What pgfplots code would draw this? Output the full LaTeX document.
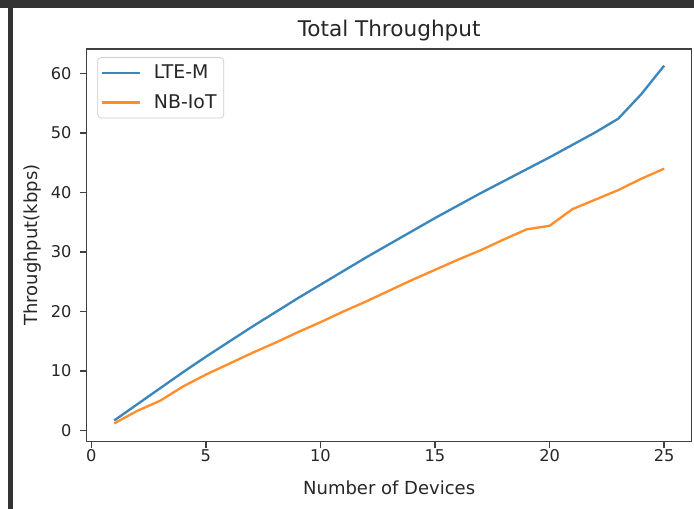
\documentclass[border=0pt]{standalone}
\usepackage{pgfplots}
\pgfplotsset{compat=1.18}
\usepackage{fontspec}
\setmainfont{DejaVu Sans}
\definecolor{mblue}{HTML}{1F77B4}
\definecolor{morange}{HTML}{FF7F0E}
\begin{document}
\begin{tikzpicture}
\path[use as bounding box, fill=white] (0,0) rectangle (385.59pt,282.80pt);
\fill[black!80] (0,278.35pt) rectangle (385.59pt,282.80pt);
\fill[black!80] (4.44pt,0) rectangle (7.06pt,282.80pt);
\begin{axis}[
  at={(48.17pt,37.61pt)}, anchor=south west,
  scale only axis, width=336.1pt, height=217.96pt,
  xmin=-0.2, xmax=26.2, ymin=-1.8, ymax=64.1,
  xtick={0,5,...,25}, ytick={0,10,...,60},
  tick align=outside, tick pos=left, major tick length=3.5pt,
  axis line style={line width=0.8pt, black!75},
  every tick/.style={line width=0.8pt, black!75},
  /pgf/number format/assume math mode=true,
  ticklabel style={font=\fontsize{9}{11}\selectfont, text=black!85},
  xticklabel style={anchor=north, inner sep=0pt, yshift=-1pt},
  yticklabel style={anchor=east, inner sep=0pt, xshift=-4.8pt},
  title={Total Throughput},
  every axis title/.style={at={(axis description cs:0.5,1.046)}, anchor=center, font=\fontsize{12}{14}\selectfont, text=black!85},
  xlabel={Number of Devices},
  xlabel style={at={(axis description cs:0.5,-0.119)}, anchor=center, font=\fontsize{10}{12}\selectfont, text=black!85},
  ylabel={Throughput(kbps)},
  ylabel style={at={(axis description cs:-0.0888,0.5)}, anchor=center, rotate=0, font=\fontsize{10}{12}\selectfont, text=black!85},
  legend cell align=left,
  legend image code/.code={\draw[#1] (0pt,0pt) -- (21pt,0pt);},
  legend style={at={(axis description cs:0.0175,0.979)}, anchor=north west,
    draw=black!20, rounded corners=2pt, fill=white,
    font=\fontsize{10.5}{12}\selectfont, text=black!85,
    inner xsep=2pt, inner ysep=2pt, row sep=3.2pt,
    /tikz/every odd column/.style={column sep=5pt}},
]
\addplot[mblue!88, line width=1.3pt] coordinates {
(1,1.7) (2,4.4) (3,7.1) (4,9.8) (5,12.4) (6,14.9) (7,17.4) (8,19.8) (9,22.2) (10,24.5)
(11,26.8) (12,29.1) (13,31.3) (14,33.5) (15,35.7) (16,37.8) (17,39.9) (18,41.9) (19,43.9) (20,45.9)
(21,48.0) (22,50.1) (23,52.4) (24,56.5) (25,61.3)};
\addlegendentry{LTE-M}
\addplot[morange!88, line width=1.3pt] coordinates {
(1,1.2) (2,3.3) (3,5.0) (4,7.4) (5,9.4) (6,11.2) (7,13.0) (8,14.7) (9,16.5) (10,18.2)
(11,20.0) (12,21.7) (13,23.5) (14,25.3) (15,27.0) (16,28.7) (17,30.3) (18,32.1) (19,33.8) (20,34.4)
(21,37.2) (22,38.8) (23,40.4) (24,42.3) (25,44.0)};
\addlegendentry{NB-IoT}
\end{axis}
\end{tikzpicture}
\end{document}
